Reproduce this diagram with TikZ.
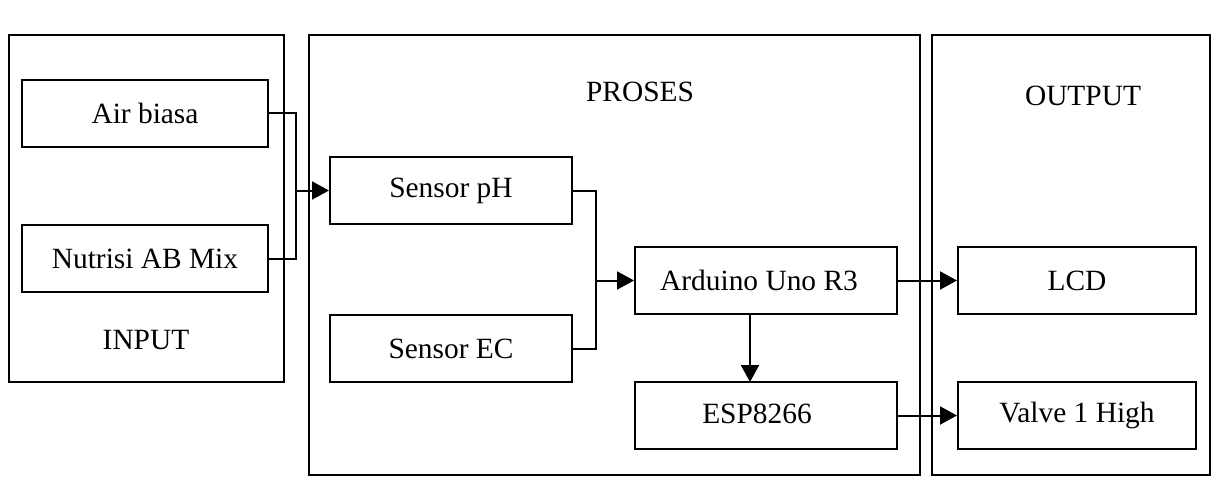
\documentclass[tikz,border=0pt]{standalone}
\usepackage{fontspec}
\setmainfont{Liberation Serif}
\usetikzlibrary{arrows.meta}
\tikzset{
  blok/.style={draw, line width=1pt, minimum height=33.5pt, inner sep=0pt},
  grup/.style={draw, line width=1pt, inner sep=0pt},
  panah/.style={line width=1pt, -{Triangle[length=8.5pt,width=9pt]}},
  garis/.style={line width=1pt}
}
\begin{document}
\begin{tikzpicture}[x=0.5pt,y=-0.5pt,font=\fontsize{14.7}{17}\selectfont]
  \useasboundingbox (0,0) rectangle (1225,481);
  % kotak luar
  \node[grup, minimum width=137.5pt, minimum height=173.5pt] (input) at (146,208.5) {};
  \node[grup, minimum width=305.5pt, minimum height=220pt] (proses) at (614.5,255) {};
  \node[grup, minimum width=139pt, minimum height=220pt] (output) at (1071,255) {};
  \node (tinput) at (146,340) {INPUT};
  \node (tproses) at (640,92) {PROSES};
  \node (toutput) at (1083,96) {OUTPUT};
  % blok
  \node[blok, minimum width=123pt] (air) at (145,113.5) {Air biasa};
  \node[blok, minimum width=123pt] (nutrisi) at (145,258.5) {Nutrisi AB Mix};
  \node[blok, minimum width=121pt] (ph) at (451,190.5) {Sensor pH};
  \node[blok, minimum width=121pt] (ec) at (451,348.5) {Sensor EC};
  \node[blok, minimum width=131pt] (arduino) at (766,280.5) {};
  \node[blok, minimum width=131pt] (esp) at (766,415.5) {};
  \node (tarduino) at (759,280.5) {Arduino Uno R3};
  \node (tesp) at (757,413.5) {ESP8266};
  \node[blok, minimum width=119pt] (lcd) at (1077,280.5) {LCD};
  \node[blok, minimum width=119pt] (valve) at (1077,415.5) {Valve 1 High};
  % titik cabang
  \coordinate (j1) at (296,190.5);
  \coordinate (j2) at (596,280.5);
  \coordinate (j3) at (750,314);
  \coordinate (j4) at (750,382);
  % garis
  \draw[garis] (air.east) -| (j1) |- (nutrisi.east);
  \draw[panah] (j1) -- (ph);
  \draw[garis] (ph.east) -| (j2) |- (ec.east);
  \draw[panah] (j2) -- (arduino);
  \draw[panah] (j3) -- (j4);
  \draw[panah] (arduino) -- (lcd);
  \draw[panah] (esp) -- (valve);
\end{tikzpicture}
\end{document}
